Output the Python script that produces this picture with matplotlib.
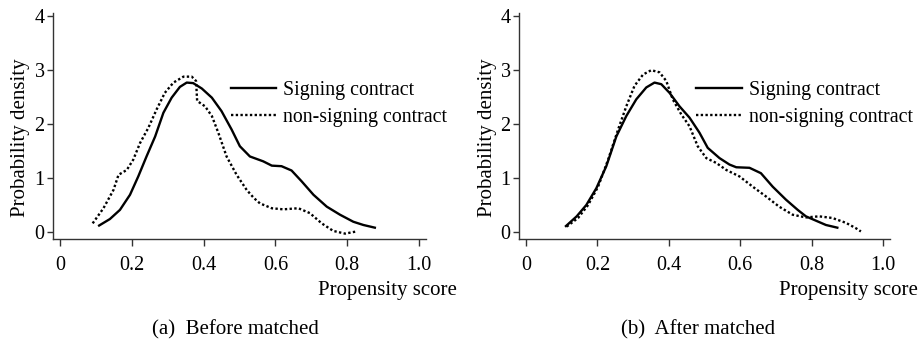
import numpy as np
import matplotlib
matplotlib.use("Agg")
import matplotlib.pyplot as plt

plt.rcParams['font.family'] = ['Liberation Serif', 'DejaVu Serif']
plt.rcParams['font.size'] = 15

# before matching
before_sign_x = [0.109, 0.139, 0.167, 0.195, 0.218, 0.241, 0.265, 0.288, 0.311, 0.334, 0.353,
                 0.371, 0.395, 0.423, 0.450, 0.478, 0.501, 0.529, 0.566, 0.590, 0.617,
                 0.645, 0.673, 0.706, 0.743, 0.780, 0.817, 0.845, 0.877]
before_sign_y = [0.12, 0.24, 0.41, 0.69, 1.03, 1.40, 1.77, 2.21, 2.49, 2.69, 2.77,
                 2.76, 2.66, 2.49, 2.24, 1.90, 1.59, 1.40, 1.31, 1.23, 1.22,
                 1.14, 0.94, 0.69, 0.47, 0.32, 0.19, 0.13, 0.08]
before_non_x = [0.091, 0.121, 0.149, 0.163, 0.186, 0.204, 0.223, 0.246, 0.269, 0.292, 0.316,
                0.344, 0.367, 0.379, 0.382, 0.404, 0.423, 0.441, 0.464, 0.492, 0.520,
                0.540, 0.557, 0.590, 0.622, 0.664, 0.696, 0.729, 0.761, 0.794, 0.826]
before_non_y = [0.16, 0.44, 0.78, 1.06, 1.15, 1.34, 1.65, 1.93, 2.27, 2.58, 2.77,
                2.88, 2.88, 2.80, 2.43, 2.33, 2.15, 1.84, 1.40, 1.06, 0.78,
                0.63, 0.53, 0.44, 0.42, 0.44, 0.35, 0.16, 0.02, -0.03, 0.01]

# after matching
after_sign_x = [0.112, 0.142, 0.169, 0.197, 0.225, 0.253, 0.281, 0.309, 0.337, 0.360, 0.379,
                0.402, 0.430, 0.458, 0.486, 0.509, 0.542, 0.570, 0.589, 0.626, 0.658,
                0.691, 0.728, 0.761, 0.784, 0.812, 0.840, 0.872]
after_sign_y = [0.11, 0.29, 0.50, 0.81, 1.22, 1.77, 2.15, 2.46, 2.68, 2.77, 2.74,
                2.58, 2.33, 2.12, 1.84, 1.56, 1.37, 1.25, 1.20, 1.19, 1.09,
                0.84, 0.60, 0.41, 0.29, 0.21, 0.13, 0.08]
after_non_x = [0.114, 0.146, 0.174, 0.202, 0.230, 0.258, 0.281, 0.304, 0.328, 0.351, 0.374,
               0.393, 0.411, 0.435, 0.458, 0.481, 0.505, 0.533, 0.561, 0.598, 0.635,
               0.672, 0.709, 0.747, 0.784, 0.821, 0.858, 0.896, 0.924, 0.938]
after_non_y = [0.10, 0.26, 0.50, 0.84, 1.34, 1.90, 2.33, 2.71, 2.92, 3.00, 2.96,
               2.80, 2.46, 2.18, 1.96, 1.59, 1.37, 1.28, 1.15, 1.03, 0.84,
               0.66, 0.47, 0.32, 0.27, 0.29, 0.26, 0.17, 0.07, 0.01]

x_ticks = [0, 0.2, 0.4, 0.6, 0.8, 1.0]
x_tick_labels = ["0", "0.2", "0.4", "0.6", "0.8", "1.0"]
y_ticks = [0, 1, 2, 3, 4]
labels = ["Signing contract", "non-signing contract"]
captions = ["(a)  Before matched", "(b)  After matched"]

W, H = 921, 344
fig = plt.figure(figsize=(W / 100, H / 100), dpi=100)


def panel(left_px, right_px, sx, sy, nx, ny):
    ax = fig.add_axes([left_px / W, (H - 239) / H, (right_px - left_px) / W, 226 / H])
    ax.plot(sx, sy, color="black", lw=1.7, solid_joinstyle="round")
    ax.plot(nx, ny, color="black", lw=1.7, linestyle=(0, (1, 1)))
    ax.set_xlim(-0.0195, 1.0195)
    ax.set_ylim(-0.13, 4.06)
    ax.set_xticks(x_ticks)
    ax.set_xticklabels(x_tick_labels)
    ax.set_yticks(y_ticks)
    for s in ["top", "right"]:
        ax.spines[s].set_visible(False)
    for s in ["left", "bottom"]:
        ax.spines[s].set_color("#333333")
        ax.spines[s].set_linewidth(1.0)
    ax.tick_params(axis="x", length=5, width=1, pad=7, colors="#333333",
                   labelcolor="black", labelsize=14.5)
    ax.tick_params(axis="y", length=4, width=1, pad=2, colors="#333333",
                   labelcolor="black", labelsize=14.5)
    ax.legend(labels, frameon=False, loc="upper left", bbox_to_anchor=(0.45, 0.745),
              borderpad=0, handlelength=2.3, handletextpad=0.35, labelspacing=0.4,
              fontsize=14.3)
    return ax


panel(53, 426, before_sign_x, before_sign_y, before_non_x, before_non_y)
panel(519, 890, after_sign_x, after_sign_y, after_non_x, after_non_y)

fig.text(21 / W, 1 - 138 / H, "Probability density", rotation=90, ha="center", va="center")
fig.text(487 / W, 1 - 138 / H, "Probability density", rotation=90, ha="center", va="center")
fig.text(387 / W, 1 - 290 / H, "Propensity score", ha="center", va="center")
fig.text(848 / W, 1 - 290 / H, "Propensity score", ha="center", va="center")
fig.text(235 / W, 1 - 330 / H, captions[0], ha="center", va="center")
fig.text(698 / W, 1 - 330 / H, captions[1], ha="center", va="center")

fig.savefig("out.png", dpi=100)
